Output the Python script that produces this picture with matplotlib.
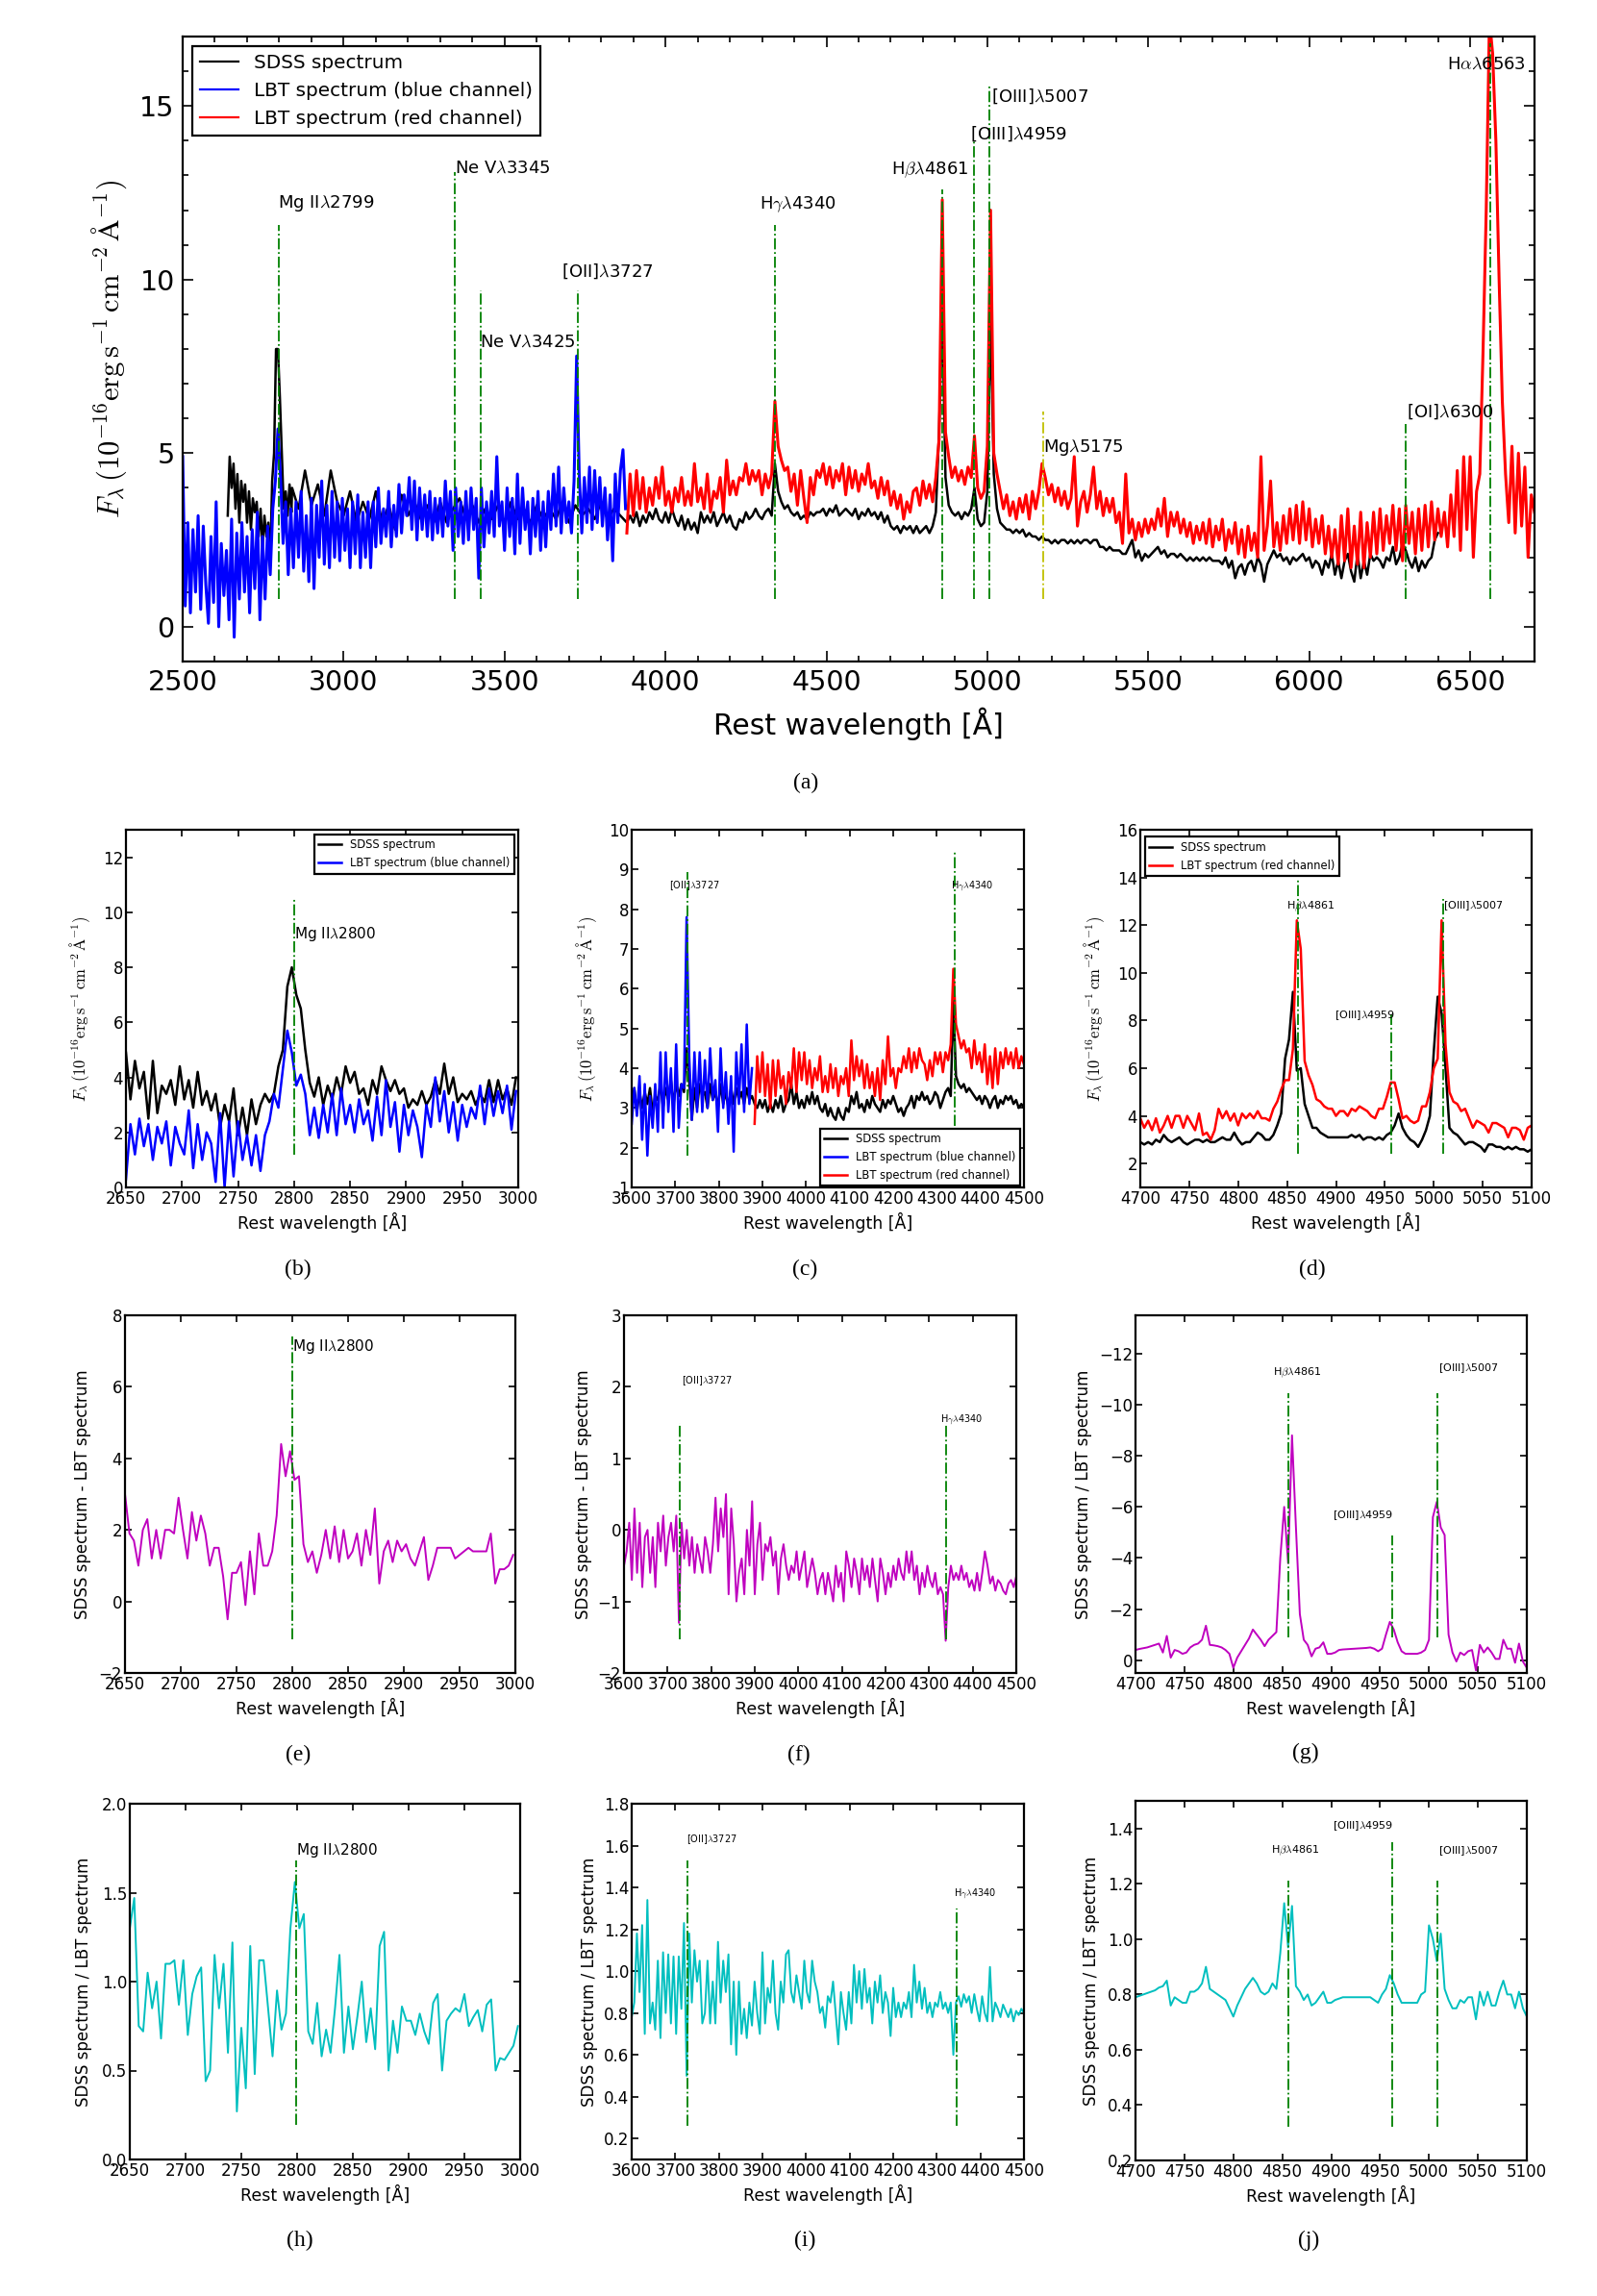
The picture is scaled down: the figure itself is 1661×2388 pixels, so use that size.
import matplotlib
matplotlib.use('Agg')
import matplotlib.pyplot as plt
from matplotlib.ticker import MultipleLocator

plt.rcParams['mathtext.fontset'] = 'cm'
plt.rcParams['font.family'] = ['DejaVu Sans']

# main panel (a)
wl_black_uv = [2640,2646,2652,2658,2664,2670,2676,2682,2688,2694,
    2700,2706,2712,2718,2724,2730,2736,2742,2748,2754,
    2760,2766,2772,2778,2784,2790,2796,2802,2808,2814,
    2820,2826,2832,2838,
    2840,2860,2880,2900,2920,2940,2960,2980,3000,3020,
    3040,3060,3080,3100,3120,3140,3160,3180,3200,3220,
    3240,3260,3280,3300,3320,3340,3360,3380,3400,3420,
    3440,3460,3480,3500,3520,3540,3560,3580,3600,3620,
    3640,3660,3680,3700,3720,3740,3760,3780,3800,3820,
    3840,3860]
flux_black_uv = [3.2,4.9,4.0,4.7,3.4,4.4,3.0,4.2,3.6,4.1,
    3.0,3.9,2.8,3.7,3.3,3.6,2.6,3.4,2.3,3.2,
    2.6,3.0,1.9,4.2,5.0,8.0,8.0,6.6,5.0,3.4,
    3.9,3.2,4.1,3.3,
    4.0,3.4,4.5,3.5,4.1,3.2,4.5,3.6,3.2,3.9,
    3.0,3.6,3.1,3.9,3.0,3.5,2.8,3.8,3.2,3.6,
    3.1,3.5,3.0,3.6,3.0,3.4,3.7,3.1,3.5,3.0,
    3.4,3.1,3.5,3.0,3.6,3.1,3.4,3.0,3.5,3.1,
    3.4,3.1,3.6,3.0,3.5,3.2,3.4,3.1,3.6,3.1,
    3.4,3.2]

wl_red = [3880,3890,3900,3910,3920,3930,3940,3950,3960,3970,
    3980,3990,4000,4010,4020,4030,4040,4050,4060,4070,
    4080,4090,4100,4110,4120,4130,4140,4150,4160,4170,
    4180,4190,4200,4210,4220,4230,4240,4250,4260,4270,
    4280,4290,4300,4310,4320,4330,4340,4350,4360,4370,
    4380,4390,4400,4410,4420,4430,4440,4450,4460,4470,
    4480,4490,4500,4510,4520,4530,4540,4550,4560,4570,
    4580,4590,4600,4610,4620,4630,4640,4650,4660,4670,
    4680,4690,4700,4710,4720,4730,4740,4750,4760,4770,
    4780,4790,4800,4810,4820,4830,4840,4850,4860,4870,
    4880,4890,4900,4910,4920,4930,4940,4950,4960,4970,
    4980,4990,5000,5010,5020,5030,5040,5050,5060,5070,
    5080,5090,5100,5110,5120,5130,5140,5150,5160,5170,
    5180,5190,5200,5210,5220,5230,5240,5250,5260,5270,
    5280,5290,5300,5310,5320,5330,5340,5350,5360,5370,
    5380,5390,5400,5410,5420,5430,5440,5450,5460,5470,
    5480,5490,5500,5510,5520,5530,5540,5550,5560,5570,
    5580,5590,5600,5610,5620,5630,5640,5650,5660,5670,
    5680,5690,5700,5710,5720,5730,5740,5750,5760,5770,
    5780,5790,5800,5810,5820,5830,5840,5850,5860,5870,
    5880,5890,5900,5910,5920,5930,5940,5950,5960,5970,
    5980,5990,6000,6010,6020,6030,6040,6050,6060,6070,
    6080,6090,6100,6110,6120,6130,6140,6150,6160,6170,
    6180,6190,6200,6210,6220,6230,6240,6250,6260,6270,
    6280,6290,6300,6310,6320,6330,6340,6350,6360,6370,
    6380,6390,6400,6410,6420,6430,6440,6450,6460,6470,
    6480,6490,6500,6510,6520,6530,6540,6550,6560,6570,
    6580,6590,6600,6610,6620,6630,6640,6650,6660,6670,
    6680,6690,6700]
flux_red = [2.7,4.4,3.2,4.5,3.4,4.3,3.3,4.0,3.5,4.3,
    3.7,4.6,3.5,3.9,3.3,4.0,3.6,4.3,3.5,3.9,
    3.5,4.7,3.6,4.0,3.4,4.4,3.3,3.9,3.7,4.3,
    3.3,4.8,3.8,4.2,3.8,4.3,4.2,4.7,4.1,4.5,
    4.2,4.5,3.8,4.4,4.0,4.4,6.5,5.2,4.8,4.5,
    4.6,3.9,4.4,3.5,4.5,3.7,3.0,4.3,3.8,4.5,
    4.3,4.7,4.1,4.6,4.0,4.5,4.2,4.7,3.8,4.6,
    4.0,4.5,3.9,4.4,4.1,4.7,4.0,4.2,3.7,4.3,
    3.8,4.2,3.5,3.9,3.4,3.8,3.1,3.6,3.3,3.9,
    4.0,3.5,4.2,3.7,4.1,3.6,4.3,5.4,12.3,5.6,
    4.9,4.3,4.6,4.2,4.5,4.1,4.6,4.3,5.5,4.0,
    3.7,3.9,5.2,12.0,5.0,4.4,3.9,3.4,3.8,3.2,
    3.6,3.1,3.7,3.3,3.8,3.1,3.9,3.4,3.9,4.7,
    4.3,3.8,4.1,3.6,4.0,3.5,3.9,3.4,3.7,4.9,
    2.9,3.6,3.9,3.3,3.8,4.6,3.4,3.9,3.2,3.7,
    3.3,3.7,3.0,3.3,2.4,4.4,2.7,3.1,2.5,3.0,
    2.6,3.1,2.7,3.1,2.8,3.4,2.9,3.7,2.6,3.3,
    2.9,3.3,2.7,3.1,2.6,3.0,2.4,2.9,2.5,3.0,
    2.4,3.1,2.3,2.9,2.5,3.1,2.2,2.8,2.4,3.0,
    2.1,2.8,2.0,2.9,2.2,2.7,2.0,4.9,2.2,2.9,
    4.2,2.3,3.0,2.2,3.2,2.4,3.4,2.5,3.5,2.4,
    3.6,2.5,3.4,2.3,3.1,2.4,3.2,2.1,2.9,2.0,
    2.8,1.8,3.2,1.9,3.4,1.7,2.9,1.8,3.3,1.7,
    3.0,2.0,3.3,2.1,3.4,2.2,3.2,2.4,3.5,2.2,
    3.4,1.9,3.5,2.4,3.3,2.1,3.4,2.2,3.5,2.3,
    3.6,2.5,3.4,2.6,3.3,2.3,3.8,2.6,4.5,2.2,
    4.9,2.8,4.9,2.0,3.9,4.4,7.9,12.0,17.5,16.5,
    14.0,10.0,6.5,4.4,3.0,5.2,2.7,5.0,2.9,4.6,
    2.0,3.8,3.3]

flux_black_opt = [3.0,3.2,3.0,3.3,2.9,3.2,3.0,3.3,3.1,3.4,
    3.1,3.0,3.3,3.0,3.4,3.1,2.9,3.2,2.8,3.1,
    2.8,3.0,2.7,3.3,3.0,3.2,3.0,3.3,2.9,3.1,
    3.3,3.0,3.2,2.9,2.8,3.1,3.0,3.3,3.1,3.2,
    3.4,3.2,3.1,3.3,3.4,3.2,4.7,3.9,3.6,3.4,
    3.5,3.3,3.2,3.3,3.1,3.2,3.1,3.3,3.2,3.3,
    3.3,3.4,3.2,3.4,3.3,3.5,3.2,3.3,3.4,3.3,
    3.2,3.4,3.1,3.3,3.2,3.4,3.2,3.3,3.1,3.3,
    3.0,3.2,2.9,2.8,2.9,2.7,2.9,2.8,2.9,2.7,
    2.9,2.7,2.8,2.9,2.7,2.9,3.3,5.6,9.2,4.3,
    3.5,3.3,3.2,3.3,3.1,3.3,3.2,3.4,4.0,3.1,
    2.9,3.0,3.9,9.0,4.4,3.4,3.0,2.9,2.8,2.8,
    2.7,2.8,2.7,2.8,2.6,2.7,2.6,2.6,2.5,2.6,
    2.5,2.5,2.4,2.5,2.4,2.5,2.5,2.4,2.5,2.4,
    2.5,2.4,2.5,2.5,2.4,2.5,2.5,2.3,2.3,2.2,
    2.3,2.2,2.2,2.2,2.1,2.1,2.3,2.5,2.0,2.2,
    1.9,2.1,2.0,2.1,2.2,2.3,2.1,2.2,2.0,2.1,
    2.1,2.0,2.1,2.0,1.9,2.0,1.9,2.0,1.9,2.0,
    1.9,2.0,1.9,1.9,1.9,1.8,2.0,1.7,1.9,1.4,
    1.7,1.8,1.5,1.8,1.9,1.6,2.0,1.8,1.3,1.8,
    2.0,2.2,2.0,2.1,1.9,2.0,1.8,2.0,1.9,2.0,
    2.1,1.9,2.0,1.7,1.9,1.8,1.5,1.9,1.7,2.1,
    1.5,1.9,1.4,1.9,2.1,1.6,1.3,2.1,1.4,1.9,
    1.5,2.1,1.9,2.0,1.9,1.7,2.0,1.9,2.3,1.8,
    2.0,2.4,2.2,1.9,1.7,2.0,1.6,1.9,1.7,1.9,
    2.0,2.5,2.7]

wl_blue = [2500,2508,2516,2524,2532,2540,2548,2556,2564,2572,
    2580,2588,2596,2604,2612,2620,2628,2636,2644,2652,
    2660,2668,2676,2684,2692,2700,2708,2716,2724,2732,
    2740,2748,2756,2764,2772,2780,2788,2796,2804,2812,
    2820,2828,2836,2844,2852,2860,2868,2876,2884,2892,
    2900,2908,2916,2924,2932,2940,2948,2956,2964,2972,
    2980,2988,2996,3004,3012,3020,3028,3036,3044,3052,
    3060,3068,3076,3084,3092,3100,3108,3116,3124,3132,
    3140,3148,3156,3164,3172,3180,3188,3196,3204,3212,
    3220,3228,3236,3244,3252,3260,3268,3276,3284,3292,
    3300,3308,3316,3324,3332,3340,3348,3356,3364,3372,
    3380,3388,3396,3404,3412,3420,3428,3436,3444,3452,
    3460,3468,3476,3484,3492,3500,3508,3516,3524,3532,
    3540,3548,3556,3564,3572,3580,3588,3596,3604,3612,
    3620,3628,3636,3644,3652,3660,3668,3676,3684,3692,
    3700,3708,3716,3724,3732,3740,3748,3756,3764,3772,
    3780,3788,3796,3804,3812,3820,3828,3836,3844,3852,
    3860,3868,3876]
flux_blue = [4.9,0.6,3.0,0.4,2.8,1.0,3.2,0.5,2.9,1.2,
    0.1,2.6,0.7,3.6,0.0,2.4,0.9,2.2,0.2,3.1,
    -0.3,2.7,0.8,3.0,1.0,2.6,0.4,2.8,1.1,3.3,
    0.2,2.6,0.8,2.9,1.5,3.4,4.2,5.7,4.3,2.4,
    3.6,1.5,3.4,1.7,3.6,2.0,3.9,1.6,3.2,1.3,
    3.7,1.1,3.5,2.0,4.2,1.8,3.5,1.7,3.9,2.0,
    3.6,1.9,3.7,2.2,3.4,1.7,3.6,2.1,3.8,1.7,
    3.3,2.0,3.6,1.7,3.6,2.3,4.0,2.4,3.4,2.6,
    3.9,2.3,3.5,2.6,4.1,2.7,3.8,3.2,4.3,2.8,
    4.2,2.5,4.0,2.8,3.8,2.6,3.9,2.5,3.7,2.7,
    3.7,2.6,4.2,2.9,3.9,2.2,4.0,2.6,3.6,2.4,
    3.9,2.5,4.0,2.8,3.7,1.4,4.0,2.3,3.6,2.7,
    3.9,2.6,4.9,2.9,3.6,2.2,4.0,2.6,3.7,2.1,
    4.4,2.4,4.0,2.8,3.6,2.1,3.7,2.6,3.9,2.2,
    3.6,2.3,3.9,2.8,4.4,2.9,4.6,2.7,4.0,3.0,
    3.6,2.7,4.2,7.8,4.4,2.7,4.3,3.0,4.6,2.8,
    4.5,3.0,4.3,2.9,4.0,2.5,3.8,1.9,4.4,3.0,
    4.5,5.1,3.4]

# panels (b), (e), (h)
wl_mg = [2650,2654,2658,2662,2666,2670,2674,2678,2682,2686,
    2690,2694,2698,2702,2706,2710,2714,2718,2722,2726,
    2730,2734,2738,2742,2746,2750,2754,2758,2762,2766,
    2770,2774,2778,2782,2786,2790,2794,2798,2802,2806,
    2810,2814,2818,2822,2826,2830,2834,2838,2842,2846,
    2850,2854,2858,2862,2866,2870,2874,2878,2882,2886,
    2890,2894,2898,2902,2906,2910,2914,2918,2922,2926,
    2930,2934,2938,2942,2946,2950,2954,2958,2962,2966,
    2970,2974,2978,2982,2986,2990,2994,2998]
sdss_b = [4.9,3.2,4.6,3.6,4.2,2.5,4.6,2.7,3.7,3.4,
    3.9,3.0,4.4,3.2,3.9,2.9,4.2,3.0,3.5,2.8,
    3.4,2.2,3.0,2.4,3.6,1.9,2.9,1.9,3.2,2.3,
    3.0,3.4,3.1,3.4,4.4,5.0,7.3,8.0,7.0,6.5,
    5.0,3.8,3.3,4.0,3.0,3.7,3.2,4.0,3.4,4.4,
    3.8,4.2,3.4,3.6,3.0,3.9,3.4,4.4,3.9,3.5,
    3.9,3.4,3.6,2.9,3.2,3.0,3.5,3.0,3.3,3.9,
    3.4,4.5,3.4,4.0,3.1,3.4,3.2,3.5,3.0,3.4,
    3.1,3.9,3.1,3.9,3.2,3.6,3.0,4.0]
lbt_b = [0.3,2.3,1.2,2.5,1.5,2.3,1.0,2.2,1.6,2.4,
    0.8,2.2,1.6,1.2,2.8,0.7,2.3,1.0,2.0,1.6,
    0.2,2.7,0.0,2.4,0.4,2.4,1.0,1.9,0.8,1.9,
    0.6,1.9,2.4,3.4,2.9,4.3,5.7,4.9,3.7,4.1,
    3.4,1.9,2.9,1.8,3.0,2.0,3.4,1.9,3.6,2.3,
    3.0,2.0,3.2,2.3,2.8,1.7,3.3,1.9,3.9,2.2,
    3.1,1.3,3.0,1.9,2.8,2.2,1.1,3.0,2.2,4.0,
    2.4,3.5,2.0,3.1,1.7,3.0,2.2,2.9,2.5,3.7,
    2.3,3.6,2.6,3.5,2.7,3.7,2.1,3.5]
diff_e = [3.0,1.9,1.7,1.0,2.0,2.3,1.2,2.0,1.2,2.0,
    2.0,1.9,2.9,2.0,1.2,2.5,1.7,2.4,1.9,1.0,
    1.5,1.5,0.7,-0.5,0.8,0.8,1.1,-0.1,1.4,0.2,
    1.9,1.0,1.0,1.4,2.4,4.4,3.5,4.2,3.4,3.5,
    1.6,1.1,1.4,0.8,1.3,2.0,1.2,2.1,1.1,2.0,
    1.2,1.4,1.9,1.0,2.0,1.3,2.6,0.5,1.4,1.7,
    1.1,1.7,1.4,1.6,1.2,1.0,1.4,1.8,0.6,1.0,
    1.5,1.5,1.5,1.5,1.2,1.3,1.4,1.5,1.4,1.4,
    1.4,1.4,1.9,0.5,0.9,0.9,1.0,1.3]
ratio_h = [1.3,1.47,0.75,0.72,1.05,0.85,1.0,0.68,1.1,1.1,
    1.12,0.87,1.12,0.7,0.93,1.03,1.08,0.44,0.5,1.15,
    0.85,1.1,0.6,1.22,0.27,0.74,0.4,1.2,0.48,1.12,
    1.12,0.85,0.58,0.95,0.73,0.82,1.3,1.56,1.3,1.38,
    0.72,0.65,0.88,0.58,0.73,0.6,0.85,1.15,0.6,0.86,
    0.62,0.8,1.0,0.66,0.85,0.62,1.2,1.28,0.5,0.78,
    0.6,0.86,0.78,0.78,0.7,0.82,0.72,0.65,0.88,0.93,
    0.5,0.78,0.82,0.85,0.83,0.93,0.75,0.8,0.84,0.72,
    0.87,0.9,0.5,0.57,0.56,0.6,0.64,0.75]

# panels (c), (f), (i)
wl_oii = [3600,3606,3612,3618,3624,3630,3636,3642,3648,3654,
    3660,3666,3672,3678,3684,3690,3696,3702,3708,3714,
    3720,3726,3732,3738,3744,3750,3756,3762,3768,3774,
    3780,3786,3792,3798,3804,3810,3816,3822,3828,3834,
    3840,3846,3852,3858,3864,3870,3876,3882,3888,3894,
    3900,3906,3912,3918,3924,3930,3936,3942,3948,3954,
    3960,3966,3972,3978,3984,3990,3996,4002,4008,4014,
    4020,4026,4032,4038,4044,4050,4056,4062,4068,4074,
    4080,4086,4092,4098,4104,4110,4116,4122,4128,4134,
    4140,4146,4152,4158,4164,4170,4176,4182,4188,4194,
    4200,4206,4212,4218,4224,4230,4236,4242,4248,4254,
    4260,4266,4272,4278,4284,4290,4296,4302,4308,4314,
    4320,4326,4332,4338,4344,4350,4356,4362,4368,4374,
    4380,4386,4392,4398,4404,4410,4416,4422,4428,4434,
    4440,4446,4452,4458,4464,4470,4476,4482,4488,4494,
    4500]
sdss_c = [3.0,3.5,2.9,3.4,3.0,3.4,3.1,3.5,2.9,3.3,
    3.2,3.6,3.0,3.5,3.2,3.7,3.1,3.6,3.3,3.6,
    3.4,4.5,3.7,2.7,3.5,3.0,3.6,3.3,3.4,3.0,
    3.6,3.2,3.4,3.0,3.6,3.1,3.4,3.0,3.5,3.1,
    3.5,3.2,3.4,3.1,3.5,3.2,3.3,3.1,3.0,3.2,
    3.0,3.2,2.9,3.1,2.9,3.2,3.0,3.3,2.9,3.1,
    3.2,3.6,3.1,3.4,3.0,3.2,3.0,3.3,3.1,3.4,
    3.1,3.3,3.0,2.9,3.1,2.8,3.0,2.8,2.7,3.0,
    2.8,2.7,3.0,2.9,3.3,3.1,3.4,3.0,3.1,2.9,
    3.2,3.0,3.3,3.1,3.0,2.9,3.2,3.0,3.2,3.1,
    3.3,3.1,2.9,3.0,2.8,3.0,3.1,3.3,3.0,3.3,
    3.2,3.4,3.2,3.3,3.1,3.2,3.4,3.3,3.0,3.2,
    3.4,3.5,3.3,5.7,3.8,3.6,3.5,3.6,3.4,3.5,
    3.4,3.3,3.2,3.3,3.1,3.3,3.2,3.0,3.2,3.3,
    3.0,3.2,3.1,3.3,3.2,3.3,3.1,3.2,3.0,3.1,
    3.0]
blue_c = [2.6,3.5,2.8,3.8,2.2,3.6,1.8,3.3,2.5,3.6,
    2.4,4.4,2.5,4.4,2.9,4.0,2.4,4.6,2.5,3.6,
    3.5,7.8,4.3,2.7,4.4,2.9,4.4,2.9,4.2,3.0,
    4.5,3.2,3.7,2.4,4.5,3.0,3.9,2.6,3.8,1.9,
    4.4,3.1,4.6,2.9,5.1,3.1,4.0]
red_c = [2.6,4.3,3.4,4.4,3.3,4.1,3.0,4.2,3.3,4.2,
    3.5,3.8,3.1,3.9,3.5,4.5,3.4,4.4,3.7,4.4,
    3.6,4.2,3.5,4.0,3.7,4.3,3.4,3.8,3.4,4.1,
    3.5,4.0,3.3,3.8,3.6,4.0,3.3,4.7,3.7,4.3,
    3.8,4.2,3.5,4.1,3.5,3.9,3.3,4.0,3.2,4.2,
    3.6,4.8,3.8,4.0,3.5,4.0,3.9,4.3,4.0,4.5,
    3.9,4.4,4.0,4.5,4.2,4.1,3.7,4.2,3.8,4.4,
    4.1,4.4,3.9,4.4,4.2,4.6,6.5,5.1,4.8,4.5,
    4.7,4.4,4.5,4.0,4.7,4.1,4.4,3.9,4.6,3.6,
    4.3,3.5,4.5,3.6,4.4,4.0,4.5,4.1,4.4,4.0,
    4.5,4.0,4.3,4.1]
diff_f = [-0.5,-0.3,0.1,-0.7,0.3,-0.6,0.1,-0.8,-0.1,0.0,
    -0.6,-0.1,-0.8,0.1,-0.3,0.2,-0.5,-0.1,0.1,-0.3,
    0.2,-1.3,0.1,-0.4,0.0,-0.5,-0.1,-0.6,-0.2,-0.4,
    -0.6,-0.1,-0.3,-0.6,-0.2,0.45,-0.3,0.3,-0.1,0.5,
    -0.9,0.3,-0.2,-1.0,-0.6,-0.4,-0.9,0.0,-0.5,0.4,
    -0.9,-0.2,0.1,-0.7,-0.2,-0.3,-0.1,-0.5,-0.3,-0.9,
    -0.4,-0.2,-0.5,-0.7,-0.5,-0.6,-0.3,-0.7,-0.5,-0.3,
    -0.8,-0.6,-0.4,-0.6,-0.9,-0.7,-0.6,-0.9,-0.6,-0.8,
    -1.0,-0.5,-0.8,-0.6,-1.0,-0.3,-0.5,-0.8,-0.4,-0.6,
    -0.9,-0.4,-0.7,-0.5,-0.8,-0.4,-0.7,-1.0,-0.4,-0.6,
    -0.9,-0.6,-0.8,-0.5,-0.7,-0.4,-0.6,-0.7,-0.3,-0.6,
    -0.3,-0.7,-0.5,-0.9,-0.6,-0.8,-0.5,-0.7,-0.8,-0.6,
    -0.9,-0.8,-0.9,-1.55,-0.8,-0.5,-0.7,-0.6,-0.7,-0.5,
    -0.7,-0.6,-0.8,-0.7,-0.85,-0.6,-0.85,-0.6,-0.3,-0.5,
    -0.75,-0.65,-0.85,-0.7,-0.75,-0.85,-0.9,-0.75,-0.7,-0.8,
    -0.65]
ratio_i = [0.78,0.85,1.18,0.9,1.22,0.7,1.34,0.75,0.85,0.72,
    1.05,0.68,1.09,0.8,1.08,0.75,1.07,0.7,1.07,0.82,
    1.23,0.5,1.18,0.85,1.1,0.95,1.05,0.75,0.8,1.05,
    0.75,0.95,0.75,1.14,0.85,1.05,0.9,1.08,0.65,0.95,
    0.6,0.95,0.7,0.82,0.68,0.85,0.74,0.95,0.8,0.7,
    1.09,0.75,0.92,0.85,1.05,0.8,0.72,0.95,0.85,1.08,
    1.1,0.9,0.85,0.98,0.9,0.82,1.05,0.9,0.85,1.05,
    0.95,0.9,0.8,0.83,0.73,0.88,0.85,0.95,0.8,0.65,
    0.9,0.8,0.72,0.9,0.75,1.03,0.85,1.0,0.82,1.01,
    0.85,0.92,0.75,0.95,0.85,0.98,0.8,0.9,0.85,0.69,
    0.92,0.78,0.85,0.78,0.85,0.82,0.9,0.78,1.03,0.85,
    0.95,0.82,0.92,0.8,0.85,0.78,0.85,0.83,0.9,0.82,
    0.85,0.8,0.85,0.6,0.85,0.88,0.83,0.89,0.85,0.88,
    0.8,0.89,0.82,0.76,0.88,0.8,0.76,1.02,0.76,0.85,
    0.82,0.78,0.84,0.81,0.78,0.82,0.76,0.81,0.79,0.82,
    0.8]

# panels (d), (g), (j)
wl_hb = [4700,4704,4708,4712,4716,4720,4724,4728,4732,4736,
    4740,4744,4748,4752,4756,4760,4764,4768,4772,4776,
    4780,4784,4788,4792,4796,4800,4804,4808,4812,4816,
    4820,4824,4828,4832,4836,4840,4844,4848,4852,4856,
    4860,4864,4868,4872,4876,4880,4884,4888,4892,4896,
    4900,4904,4908,4912,4916,4920,4924,4928,4932,4936,
    4940,4944,4948,4952,4956,4960,4964,4968,4972,4976,
    4980,4984,4988,4992,4996,5000,5004,5008,5012,5016,
    5020,5024,5028,5032,5036,5040,5044,5048,5052,5056,
    5060,5064,5068,5072,5076,5080,5084,5088,5092,5096,
    5100]
sdss_d = [2.9,2.8,2.9,2.8,3.0,2.9,3.2,3.0,2.9,3.0,
    3.1,2.9,2.8,2.9,3.0,3.0,2.9,3.0,2.9,2.9,
    3.0,3.1,3.0,3.0,3.3,3.0,2.8,2.9,2.9,3.1,
    3.3,3.2,3.0,3.0,3.2,3.6,4.1,6.4,7.2,9.2,
    5.9,6.0,4.5,4.0,3.5,3.5,3.3,3.2,3.1,3.1,
    3.1,3.1,3.1,3.1,3.2,3.1,3.2,3.0,3.1,3.1,
    3.0,3.1,3.0,3.2,3.3,3.6,4.1,3.5,3.2,3.0,
    2.9,2.7,3.0,3.4,4.0,6.7,9.0,8.3,6.0,3.5,
    3.3,3.2,3.0,2.8,2.9,2.9,2.8,2.7,2.5,2.8,
    2.8,2.7,2.7,2.6,2.7,2.6,2.7,2.6,2.6,2.5,
    2.6]
red_d = [3.9,3.5,3.8,3.4,3.9,3.3,3.6,4.0,3.5,4.0,
    4.0,3.5,4.0,3.7,3.4,4.1,3.2,3.3,3.0,3.4,
    4.3,3.9,4.2,3.8,4.1,3.6,4.1,3.9,4.1,3.9,
    4.2,3.9,3.9,3.8,4.3,4.6,5.1,5.5,5.5,6.8,
    12.2,11.0,6.3,5.7,5.3,4.7,4.6,4.4,4.3,4.3,
    4.0,4.2,4.2,4.0,4.3,4.2,4.4,4.3,4.2,4.0,
    3.9,4.3,4.3,4.8,5.4,5.4,4.7,3.9,4.0,3.8,
    3.7,3.8,4.4,4.4,5.0,6.0,6.4,12.2,7.0,5.0,
    4.6,4.5,4.2,4.3,3.9,3.5,3.8,3.7,3.6,3.3,
    3.7,3.7,3.6,3.5,3.1,3.5,3.5,3.4,3.0,3.5,
    3.6]
diff_g = [0.4,0.44,0.47,0.5,0.55,0.6,0.65,0.3,0.95,0.1,
    0.4,0.35,0.25,0.3,0.5,0.6,0.65,0.8,1.35,0.6,
    0.58,0.55,0.5,0.4,0.25,-0.3,0.1,0.35,0.6,0.85,
    1.2,1.0,0.8,0.55,0.8,0.95,1.1,4.0,6.0,3.8,
    8.8,5.2,1.8,0.8,0.6,0.15,0.45,0.5,0.7,0.25,
    0.25,0.3,0.4,0.42,0.43,0.44,0.45,0.46,0.47,0.48,
    0.5,0.45,0.35,0.45,1.0,1.5,1.2,0.7,0.35,0.25,
    0.25,0.25,0.25,0.3,0.4,0.8,5.6,6.2,5.2,4.9,
    1.0,0.3,-0.05,0.3,0.2,0.35,0.4,-0.4,0.6,0.3,
    0.5,0.3,0.05,0.05,0.8,0.45,0.45,-0.1,0.65,-0.05,
    -0.3]
ratio_j = [0.79,0.795,0.8,0.805,0.81,0.815,0.825,0.83,0.85,0.76,
    0.79,0.78,0.77,0.77,0.81,0.81,0.82,0.84,0.9,0.82,
    0.81,0.8,0.79,0.78,0.75,0.72,0.76,0.79,0.82,0.84,
    0.86,0.84,0.81,0.8,0.81,0.84,0.82,0.95,1.13,0.97,
    1.12,0.83,0.81,0.78,0.8,0.76,0.77,0.79,0.81,0.77,
    0.77,0.78,0.785,0.79,0.79,0.79,0.79,0.79,0.79,0.79,
    0.79,0.78,0.77,0.8,0.82,0.87,0.84,0.8,0.77,0.77,
    0.77,0.77,0.77,0.8,0.81,1.05,1.0,0.92,1.02,0.82,
    0.78,0.75,0.75,0.78,0.77,0.79,0.79,0.71,0.81,0.76,
    0.81,0.76,0.76,0.81,0.85,0.8,0.8,0.75,0.81,0.75,
    0.72]

ticks_mg = [2650, 2700, 2750, 2800, 2850, 2900, 2950, 3000]
ticks_oii = [3600, 3700, 3800, 3900, 4000, 4100, 4200, 4300, 4400, 4500]
ticks_hb = [4700, 4750, 4800, 4850, 4900, 4950, 5000, 5050, 5100]

flux_label = r'$F_{\lambda}\,(10^{-16}\mathrm{erg\,s^{-1}\,cm^{-2}\,\AA^{-1}})$'
xlabel = 'Rest wavelength [Å]'
mg2 = r'Mg II$\lambda$2800'
oii = r'[OII]$\lambda$3727'
hg = r'H$\gamma\lambda$4340'
hb = r'H$\beta\lambda$4861'
o4959 = r'[OIII]$\lambda$4959'
o5007 = r'[OIII]$\lambda$5007'

W, H = 1661, 2388
fig = plt.figure(figsize=(W / 100, H / 100), dpi=100, facecolor='white')


def panel(left, right, top, bottom, xlim, ylim, xticks, yticks, ylabel, ylabel_x):
    ax = fig.add_axes([left / W, 1 - bottom / H, (right - left) / W, (bottom - top) / H])
    ax.set_xlim(xlim)
    ax.set_ylim(ylim)
    ax.set_xticks(xticks)
    ax.set_yticks(yticks)
    ax.tick_params(direction='in', top=True, right=True, length=5, width=1.2, labelsize=12, pad=2)
    for spine in ax.spines.values():
        spine.set_linewidth(1.6)
    ax.set_xlabel(xlabel, fontsize=12.5)
    ax.xaxis.set_label_coords(0.5, -0.07)
    ax.set_ylabel(ylabel, fontsize=12)
    ax.yaxis.set_label_coords(ylabel_x, 0.5)
    return ax


def vline(ax, wave, low, high, color='g'):
    ax.plot([wave, wave], [low, high], color=color, ls='-.', lw=1.3)


def legend(ax, x, y, size):
    ax.legend(loc='upper left', bbox_to_anchor=(x, y), borderaxespad=0, fancybox=False,
              framealpha=1, edgecolor='black', fontsize=size).get_frame().set_linewidth(1.6)


# (a)
ax = panel(190, 1596, 38, 688, (2500, 6700), (-1, 17), [2500, 3000, 3500, 4000, 4500, 5000, 5500, 6000, 6500],
           [0, 5, 10, 15], flux_label, -0.04)
ax.xaxis.set_minor_locator(MultipleLocator(100))
ax.yaxis.set_minor_locator(MultipleLocator(1))
ax.tick_params(which='major', length=8, labelsize=20.5, pad=6, width=1.2)
ax.tick_params(which='minor', direction='in', top=True, right=True, length=4, width=1.2)
ax.xaxis.label.set_size(21.5)
ax.yaxis.label.set_size(22)
ax.xaxis.set_label_coords(0.5, -0.074)
ax.plot(wl_black_uv + wl_red[:253], flux_black_uv + flux_black_opt, 'k', lw=1.8, label='SDSS spectrum')
ax.plot(wl_blue, flux_blue, 'b', lw=2.2, label='LBT spectrum (blue channel)')
ax.plot(wl_red, flux_red, 'r', lw=2.2, label='LBT spectrum (red channel)')
for wave, high in [(2799, 11.56), (3345, 13.1), (3425, 9.7), (3727, 9.7), (4340, 11.56), (4861, 12.6),
                   (4959, 14.0), (5007, 15.6), (6300, 5.85), (6563, 16.8)]:
    vline(ax, wave, 0.8, high)
vline(ax, 5175, 0.8, 6.2, 'y')
leg = ax.legend(loc='upper left', bbox_to_anchor=(0.007, 0.985), borderaxespad=0, fancybox=False,
                framealpha=1, edgecolor='black', fontsize=14.4)
leg.get_frame().set_linewidth(1.6)
for line in leg.get_lines():
    line.set_linewidth(1.6)
for text, x, y in [(r'Mg II$\lambda$2799', 2796, 12.2), (r'Ne V$\lambda$3345', 3346, 13.2),
                   (r'Ne V$\lambda$3425', 3424, 8.2), (oii, 3678, 10.24), (hg, 4293, 12.15), (hb, 4702, 13.15),
                   (o4959, 4948, 14.2), (o5007, 5011, 15.27), (r'Mg$\lambda$5175', 5175, 5.17),
                   (r'[OI]$\lambda$6300', 6304, 6.2), (r'H$\alpha\lambda$6563', 6427, 16.2)]:
    ax.text(x, y, text, fontsize=13, va='center')

# (b)
ax = panel(131, 539, 863, 1235, (2650, 3000), (0, 13), ticks_mg, [0, 2, 4, 6, 8, 10, 12], flux_label, -0.085)
ax.plot(wl_mg, sdss_b, 'k', lw=1.8, label='SDSS spectrum')
ax.plot(wl_mg, lbt_b, 'b', lw=1.8, label='LBT spectrum (blue channel)')
vline(ax, 2800, 1.2, 10.47)
legend(ax, 0.48, 0.987, 8.3)
ax.text(2800, 9.2, mg2, fontsize=11, va='center')

# (c)
ax = panel(657, 1065, 863, 1235, (3600, 4500), (1, 10), ticks_oii, [1, 2, 3, 4, 5, 6, 7, 8, 9, 10], flux_label, -0.083)
ax.plot(wl_oii, sdss_c, 'k', lw=1.8, label='SDSS spectrum')
ax.plot(wl_oii[:47], blue_c, 'b', lw=1.8, label='LBT spectrum (blue channel)')
ax.plot(wl_oii[47:], red_c, 'r', lw=1.8, label='LBT spectrum (red channel)')
vline(ax, 3728, 1.8, 8.94)
vline(ax, 4342, 2.55, 9.47)
legend(ax, 0.48, 0.165, 8.3)
ax.text(3685, 8.6, oii, fontsize=7, va='center')
ax.text(4332, 8.6, hg, fontsize=7, va='center')

# (d)
ax = panel(1186, 1593, 863, 1235, (4700, 5100), (1, 16), ticks_hb, [2, 4, 6, 8, 10, 12, 14, 16], flux_label, -0.085)
ax.plot(wl_hb, sdss_d, 'k', lw=1.8, label='SDSS spectrum')
ax.plot(wl_hb, red_d, 'r', lw=1.8, label='LBT spectrum (red channel)')
vline(ax, 4861, 2.4, 13.9)
vline(ax, 4957, 2.4, 8.27)
vline(ax, 5010, 2.4, 13.1)
legend(ax, 0.012, 0.98, 8.3)
ax.text(4849, 12.8, hb, fontsize=8, va='center')
ax.text(4899, 8.2, o4959, fontsize=8, va='center')
ax.text(5010, 12.8, o5007, fontsize=8, va='center')

# (e)
ax = panel(130, 536, 1368, 1740, (2650, 3000), (-2, 8), ticks_mg, [-2, 0, 2, 4, 6, 8],
           'SDSS spectrum - LBT spectrum', -0.085)
ax.plot(wl_mg, diff_e, color='#bf00bf', lw=1.4)
vline(ax, 2800, -1.06, 7.4)
ax.text(2800, 7.13, mg2, fontsize=11, va='center')

# (f)
ax = panel(649, 1057, 1368, 1740, (3600, 4500), (-2, 3), ticks_oii, [-2, -1, 0, 1, 2, 3],
           'SDSS spectrum - LBT spectrum', -0.08)
ax.plot(wl_oii, diff_f, color='#bf00bf', lw=1.4)
vline(ax, 3729, -1.53, 1.5)
vline(ax, 4340, -1.53, 1.5)
ax.text(3732, 2.08, oii, fontsize=7, va='center')
ax.text(4326, 1.54, hg, fontsize=7, va='center')

# (g)
ax = panel(1181, 1588, 1368, 1740, (4700, 5100), (-0.5, 13.5), ticks_hb, [0, 2, 4, 6, 8, 10, 12],
           'SDSS spectrum / LBT spectrum', -0.11)
ax.set_yticklabels(['0', '\u22122', '\u22124', '\u22126', '\u22128', '\u221210', '\u221212'])
ax.plot(wl_hb, diff_g, color='#bf00bf', lw=1.4)
vline(ax, 4856, 0.9, 10.45)
vline(ax, 4962, 0.9, 4.88)
vline(ax, 5009, 0.9, 10.45)
ax.text(4841, 11.25, hb, fontsize=8, va='center')
ax.text(4901, 5.66, o4959, fontsize=8, va='center')
ax.text(5010, 11.44, o5007, fontsize=8, va='center')

# (h)
ax = panel(135, 541, 1876, 2246, (2650, 3000), (0, 2), ticks_mg, [0, 0.5, 1, 1.5, 2],
           'SDSS spectrum / LBT spectrum', -0.095)
ax.set_yticklabels(['0.0', '0.5', '1.0', '1.5', '2.0'])
ax.plot(wl_mg, ratio_h, color='#00bfbf', lw=1.4)
vline(ax, 2799, 0.195, 1.68)
ax.text(2799, 1.74, mg2, fontsize=11, va='center')

# (i)
ax = panel(657, 1065, 1876, 2246, (3600, 4500), (0.1, 1.8), ticks_oii, [0.2, 0.4, 0.6, 0.8, 1.0, 1.2, 1.4, 1.6, 1.8],
           'SDSS spectrum / LBT spectrum', -0.085)
ax.plot(wl_oii, ratio_i, color='#00bfbf', lw=1.4)
vline(ax, 3728, 0.26, 1.53)
vline(ax, 4346, 0.26, 1.3)
ax.text(3725, 1.63, oii, fontsize=7, va='center')
ax.text(4339, 1.37, hg, fontsize=7, va='center')

# (j)
ax = panel(1181, 1588, 1873, 2247, (4700, 5100), (0.2, 1.5), ticks_hb, [0.2, 0.4, 0.6, 0.8, 1.0, 1.2, 1.4],
           'SDSS spectrum / LBT spectrum', -0.09)
ax.plot(wl_hb, ratio_j, color='#00bfbf', lw=1.4)
vline(ax, 4856, 0.32, 1.21)
vline(ax, 4962, 0.32, 1.35)
vline(ax, 5009, 0.32, 1.21)
ax.text(4839, 1.32, hb, fontsize=8, va='center')
ax.text(4901, 1.41, o4959, fontsize=8, va='center')
ax.text(5010, 1.32, o5007, fontsize=8, va='center')

for text, x, y in [('(a)', 838, 814), ('(b)', 310, 1320), ('(c)', 837, 1320), ('(d)', 1365, 1320),
                   ('(e)', 310, 1825), ('(f)', 831, 1825), ('(g)', 1358, 1823),
                   ('(h)', 312, 2330), ('(i)', 837, 2330), ('(j)', 1361, 2330)]:
    fig.text(x / W, 1 - y / H, text, family='Liberation Serif', fontsize=17, ha='center', va='center')

fig.savefig('out.png', dpi=100)
